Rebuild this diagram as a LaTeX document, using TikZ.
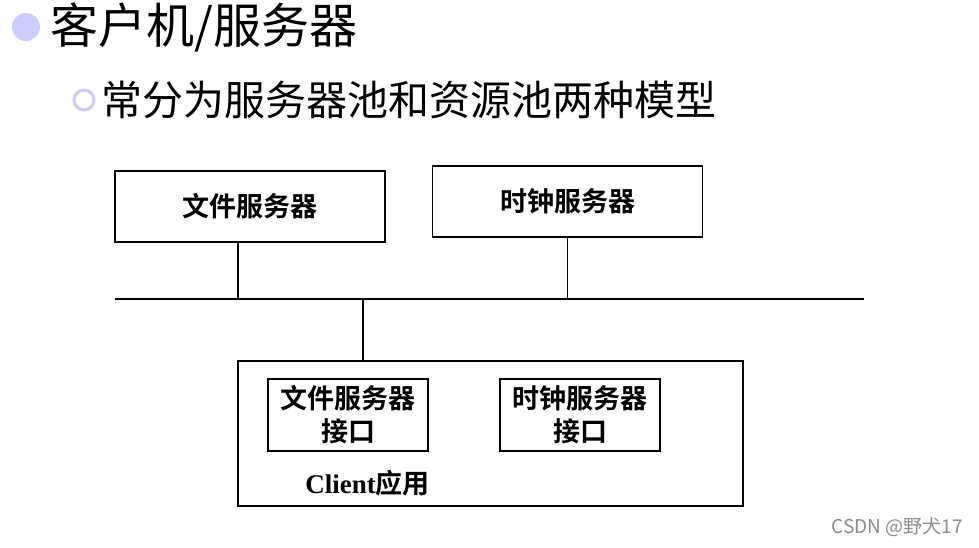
\documentclass[tikz,border=0pt]{standalone}
\usepackage{fontspec}
\setmainfont{Noto Sans CJK SC}
\newfontfamily\cjkb{Noto Sans CJK SC Bold}
\newfontfamily\latb{Liberation Serif Bold}
\newfontfamily\wmfont{Noto Sans CJK SC}

\begin{document}
\begin{tikzpicture}[x=1pt, y=-1pt,
    every node/.style={inner sep=0pt},
    server/.style={draw, line width=1.6pt, minimum width=270pt, minimum height=71pt,
      font=\cjkb\fontsize{27}{30}\selectfont},
    port/.style={draw, line width=1.6pt, minimum width=160pt, minimum height=72pt, align=center,
      font=\cjkb\fontsize{27}{33}\selectfont},
    wire/.style={line width=1.6pt}]
  \useasboundingbox (0,0) rectangle (979,548);
  % headings
  \fill[blue!20] (26,27) circle (14);
  \node[anchor=west, font=\fontsize{48}{52}\selectfont] (title) at (50,27) {客户机/服务器};
  \draw[blue!20, line width=3pt] (84,100) circle (10);
  \node[anchor=west, font=\fontsize{41}{45}\selectfont] (sub) at (101,100) {常分为服务器池和资源池两种模型};
  % servers
  \node[server] (fs) at (250,206.5) {文件服务器};
  \node[server] (cs) at (567.5,201.5) {时钟服务器};
  % bus
  \coordinate (busL) at (115,299);
  \coordinate (busR) at (864,299);
  \coordinate (tap) at (363,299);
  \draw[wire] (busL) -- (busR);
  \draw[wire] (fs.south -| 238,0) -- (busL -| 238,0);
  \draw[wire] (cs.south) -- (cs.south |- busL);
  % client
  \node[draw, line width=1.6pt, minimum width=505pt, minimum height=145pt] (client) at (490.5,433.5) {};
  \draw[wire] (tap) -- (tap |- client.north);
  \node[port] (fsp) at (348,415) {文件服务器\\接口};
  \node[port] (csp) at (580,415) {时钟服务器\\接口};
  \node (app) at (367.5,483) {\latb\fontsize{27}{30}\selectfont Client\cjkb 应用};
  % watermark
  \node[anchor=east, text=black!45, font=\wmfont\fontsize{19}{21}\selectfont] (wm) at (963,527) {CSDN @野犬17};
\end{tikzpicture}
\end{document}
